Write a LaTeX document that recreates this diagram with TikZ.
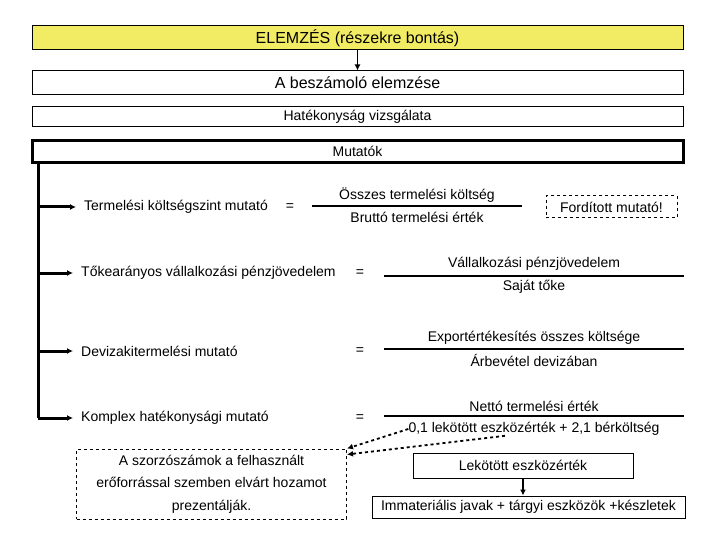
\documentclass[tikz,border=0pt]{standalone}
\usepackage{fontspec}
\setmainfont{Liberation Sans}
\usetikzlibrary{arrows.meta, positioning}

\definecolor{lemon}{RGB}{242,236,100}

\begin{document}
\begin{tikzpicture}[
    x=1pt, y=-1pt,
    >=Latex,
    every node/.style={font=\fontsize{14}{16}\selectfont, inner sep=0pt},
    title/.style={font=\fontsize{16}{18}\selectfont},
    band/.style={draw, line width=1pt, minimum width=651pt},
    plain/.style={draw, line width=1pt},
    note/.style={draw, dashed, line width=1pt},
    rule/.style={line width=1.2pt},
    trunk/.style={line width=3pt},
    branch/.style={->, line width=3pt, shorten >=8pt, >={Latex[length=6pt,width=6pt]}},
    down/.style={->, line width=1.5pt, >={Latex[length=6pt,width=6pt]}},
    hint/.style={->, dashed, line width=1.8pt, >={Latex[length=6pt,width=6pt]}}
]
\useasboundingbox (0,0) rectangle (720,540);

\node[band, title, fill=lemon, minimum height=24pt] (elemzes) at (357.5,38) {ELEMZÉS (részekre bontás)};
\node[band, title, minimum height=24pt] (beszamolo) at (357.5,83) {A beszámoló elemzése};
\node[band, minimum height=20pt] (hatekony) at (357.5,117) {Hatékonyság vizsgálata};
\node[band, line width=3pt, minimum height=22pt] (mutatok) at (357.5,151.5) {Mutatók};

\draw[down] (elemzes.south) -- (beszamolo.north);

\coordinate (t0) at (38,162);
\coordinate (t1) at (38,207);
\coordinate (t2) at (38,273);
\coordinate (t3) at (38,351);
\coordinate (t4) at (38,418);
\draw[trunk] (t0) -- (t4);

\node[anchor=west] (r1) at (84,207) {Termelési költségszint mutató};
\node (eq1) at (290,207) {=};
\node (num1) at (417,195) {Összes termelési költség};
\node (den1) at (417,217) {Bruttó termelési érték};
\draw[rule] (312,206) -- (522,206);
\node[note, minimum width=131pt, minimum height=22pt] (forditott) at (611.5,207) {Fordított mutató!};

\node[anchor=west] (r2) at (81,273) {Tőkearányos vállalkozási pénzjövedelem};
\node (eq2) at (360,273) {=};
\node (num2) at (534,264) {Vállalkozási pénzjövedelem};
\node (den2) at (534,287) {Saját tőke};
\draw[rule] (384,276) -- (684,276);

\node[anchor=west] (r3) at (81,351) {Devizakitermelési mutató};
\node (eq3) at (360,351) {=};
\node (num3) at (534,338) {Exportértékesítés összes költsége};
\node (den3) at (534,360) {Árbevétel devizában};
\draw[rule] (384,349) -- (684,349);

\node[anchor=west] (r4) at (81,418) {Komplex hatékonysági mutató};
\node (eq4) at (360,418) {=};
\node (num4) at (534,406) {Nettó termelési érték};
\node (den4) at (534,429) {0,1 lekötött eszközérték + 2,1 bérköltség};
\draw[rule] (384,416) -- (684,416);

\draw[branch] (t1) -- (r1);
\draw[branch] (t2) -- (r2);
\draw[branch] (t3) -- (r3);
\draw[branch] (t4) -- (r4);

\node[note, minimum width=270pt, minimum height=70pt, align=center,
      font=\fontsize{14}{22.5}\selectfont] (szorzo) at (211.5,484)
    {A szorzószámok a felhasznált\\erőforrással szemben elvárt hozamot\\prezentálják.};

\draw[hint] (den4.west) -- (szorzo.north east);
\draw[hint] ([xshift=-29pt]den4.south) -- ([yshift=-6pt]szorzo.north east);

\node[plain, minimum width=220pt, minimum height=25pt] (lekotott) at (523,465.5) {Lekötött eszközérték};
\node[plain, minimum width=313pt, minimum height=22pt] (immat) at (528.5,507) {Immateriális javak + tárgyi eszközök +készletek};

\draw[down] (lekotott.south) -- (lekotott.south |- immat.north);

\end{tikzpicture}
\end{document}
